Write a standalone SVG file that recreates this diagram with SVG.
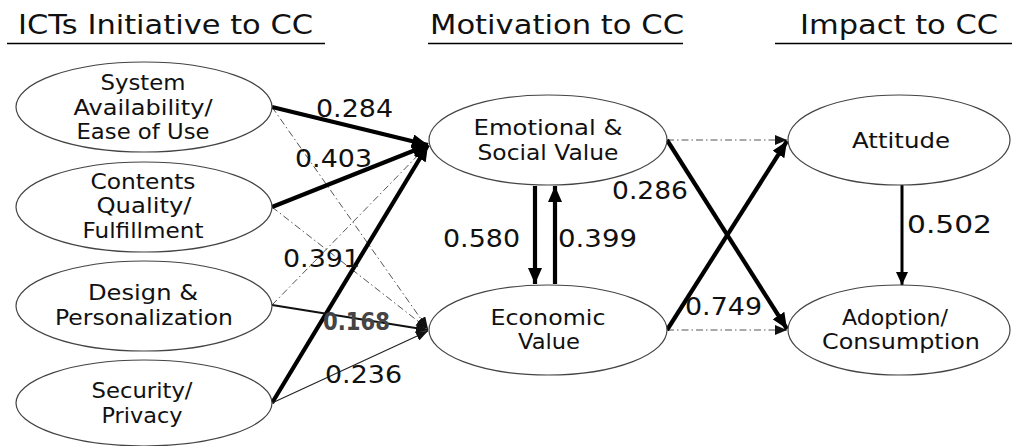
<svg xmlns="http://www.w3.org/2000/svg" width="1012" height="446" viewBox="0 0 1012 446">
  <style>
    .node ellipse { fill: #fff; stroke: #444; stroke-width: 1.2; }
    .nt { font-family: "DejaVu Sans", "Noto Sans", sans-serif; font-size: 21px; fill: #111; text-anchor: middle; }
    .hd { font-family: "DejaVu Sans", "Noto Sans", sans-serif; font-size: 27px; fill: #111; }
    .lb { font-family: "DejaVu Sans", "Noto Sans", sans-serif; font-size: 25px; fill: #111; }
    .thick { stroke: #000; stroke-width: 4.2; fill: none; }
    .med { stroke: #000; stroke-width: 3; fill: none; }
    .mid { stroke: #111; stroke-width: 2; fill: none; }
    .thin { stroke: #222; stroke-width: 1.2; fill: none; }
    .dd { stroke: #555; stroke-width: 1; fill: none; stroke-dasharray: 7 3 1.5 3; }
    .ul { stroke: #000; stroke-width: 1.5; }
  </style>
  <defs>
    <marker id="ah" markerUnits="userSpaceOnUse" markerWidth="18" markerHeight="14" refX="16" refY="7" orient="auto">
      <path d="M0,0 L16,7 L0,14 Z" fill="#000"/>
    </marker>
    <marker id="ahm" markerUnits="userSpaceOnUse" markerWidth="14" markerHeight="12" refX="13" refY="6" orient="auto">
      <path d="M0,0 L13,6 L0,12 Z" fill="#000"/>
    </marker>
    <marker id="ahs" markerUnits="userSpaceOnUse" markerWidth="14" markerHeight="10" refX="12" refY="5" orient="auto">
      <path d="M0,0 L12,5 L0,10 Z" fill="#111"/>
    </marker>
  </defs>

  <!-- column headings -->
  <g id="headings">
    <text class="hd" x="18" y="34" textLength="295" lengthAdjust="spacingAndGlyphs">ICTs Initiative to CC</text>
    <line class="ul" x1="7" y1="43.5" x2="325" y2="43.5"/>
    <text class="hd" x="430" y="34" textLength="254" lengthAdjust="spacingAndGlyphs">Motivation to CC</text>
    <line class="ul" x1="428" y1="43.5" x2="683" y2="43.5"/>
    <text class="hd" x="800" y="34" textLength="198" lengthAdjust="spacingAndGlyphs">Impact to CC</text>
    <line class="ul" x1="775" y1="43.5" x2="1012" y2="43.5"/>
  </g>

  <!-- connectors -->
  <g id="connectors">
    <!-- non-significant paths -->
    <line class="dd" x1="272" y1="107" x2="428" y2="329" marker-end="url(#ahs)"/>
    <line class="dd" x1="272" y1="207" x2="428" y2="329" marker-end="url(#ahs)"/>
    <line class="dd" x1="272" y1="305" x2="428" y2="145" marker-end="url(#ahs)"/>
    <line class="dd" x1="667" y1="140" x2="787" y2="140" marker-end="url(#ahs)"/>
    <line class="dd" x1="667" y1="330" x2="787" y2="330" marker-end="url(#ahs)"/>
    <!-- ICT initiatives to motivation -->
    <line class="thick" x1="272" y1="107" x2="428" y2="145" marker-end="url(#ah)"/>
    <line class="thick" x1="272" y1="207" x2="428" y2="145" marker-end="url(#ah)"/>
    <line class="thick" x1="272" y1="403" x2="428" y2="145" marker-end="url(#ah)"/>
    <line class="mid" x1="272" y1="305" x2="428" y2="330" marker-end="url(#ahs)"/>
    <line class="thin" x1="272" y1="403" x2="428" y2="331" marker-end="url(#ahs)"/>
    <!-- between motivations -->
    <line class="thick" x1="535" y1="186" x2="535" y2="284" marker-end="url(#ah)"/>
    <line class="thick" x1="555" y1="284" x2="555" y2="186" marker-end="url(#ah)"/>
    <!-- motivation to impact -->
    <line class="thick" x1="667" y1="140" x2="787" y2="329" marker-end="url(#ah)"/>
    <line class="thick" x1="667" y1="330" x2="787" y2="141" marker-end="url(#ah)"/>
    <line class="med" x1="902" y1="185" x2="902" y2="285" marker-end="url(#ahm)"/>
  </g>

  <!-- nodes -->
  <g id="n-system" class="node">
    <ellipse cx="144" cy="107" rx="128" ry="45"/>
    <text class="nt" x="143" y="90" textLength="85" lengthAdjust="spacingAndGlyphs">System</text>
    <text class="nt" x="143" y="115" textLength="139" lengthAdjust="spacingAndGlyphs">Availability/</text>
    <text class="nt" x="143" y="139" textLength="133" lengthAdjust="spacingAndGlyphs">Ease of Use</text>
  </g>
  <g id="n-contents" class="node">
    <ellipse cx="144" cy="207" rx="128" ry="45"/>
    <text class="nt" x="143" y="189" textLength="105" lengthAdjust="spacingAndGlyphs">Contents</text>
    <text class="nt" x="144" y="213" textLength="95" lengthAdjust="spacingAndGlyphs">Quality/</text>
    <text class="nt" x="143" y="238" textLength="121" lengthAdjust="spacingAndGlyphs">Fulfillment</text>
  </g>
  <g id="n-design" class="node">
    <ellipse cx="144" cy="306" rx="128" ry="45"/>
    <text class="nt" x="143" y="300" textLength="110" lengthAdjust="spacingAndGlyphs">Design &amp;</text>
    <text class="nt" x="144" y="325" textLength="178" lengthAdjust="spacingAndGlyphs">Personalization</text>
  </g>
  <g id="n-security" class="node">
    <ellipse cx="144" cy="403" rx="128" ry="43"/>
    <text class="nt" x="142" y="398" textLength="101" lengthAdjust="spacingAndGlyphs">Security/</text>
    <text class="nt" x="142" y="423" textLength="81" lengthAdjust="spacingAndGlyphs">Privacy</text>
  </g>
  <g id="n-emotional" class="node">
    <ellipse cx="548" cy="140" rx="119" ry="45"/>
    <text class="nt" x="548" y="135" textLength="149" lengthAdjust="spacingAndGlyphs">Emotional &amp;</text>
    <text class="nt" x="548" y="160" textLength="141" lengthAdjust="spacingAndGlyphs">Social Value</text>
  </g>
  <g id="n-economic" class="node">
    <ellipse cx="548" cy="330" rx="119" ry="45"/>
    <text class="nt" x="548" y="325" textLength="115" lengthAdjust="spacingAndGlyphs">Economic</text>
    <text class="nt" x="549" y="349" textLength="62" lengthAdjust="spacingAndGlyphs">Value</text>
  </g>
  <g id="n-attitude" class="node">
    <ellipse cx="899" cy="140" rx="111" ry="45"/>
    <text class="nt" x="901" y="148" textLength="98" lengthAdjust="spacingAndGlyphs">Attitude</text>
  </g>
  <g id="n-adoption" class="node">
    <ellipse cx="899" cy="330" rx="111" ry="45"/>
    <text class="nt" x="895" y="325" textLength="106" lengthAdjust="spacingAndGlyphs">Adoption/</text>
    <text class="nt" x="901" y="349" textLength="158" lengthAdjust="spacingAndGlyphs">Consumption</text>
  </g>

  <!-- path coefficients -->
  <g id="labels">
    <text class="lb" x="316" y="117" textLength="77" lengthAdjust="spacingAndGlyphs">0.284</text>
    <text class="lb" x="295" y="167" textLength="77" lengthAdjust="spacingAndGlyphs">0.403</text>
    <text class="lb" x="283" y="267" textLength="77" lengthAdjust="spacingAndGlyphs">0.391</text>
    <text class="lb" x="323" y="330" textLength="67" lengthAdjust="spacingAndGlyphs" style="fill:#444;font-weight:bold">0.168</text>
    <text class="lb" x="325" y="383" textLength="77" lengthAdjust="spacingAndGlyphs">0.236</text>
    <text class="lb" x="443" y="247" textLength="77" lengthAdjust="spacingAndGlyphs">0.580</text>
    <text class="lb" x="558" y="247" textLength="79" lengthAdjust="spacingAndGlyphs">0.399</text>
    <text class="lb" x="612" y="199" textLength="76" lengthAdjust="spacingAndGlyphs">0.286</text>
    <text class="lb" x="685" y="315" textLength="77" lengthAdjust="spacingAndGlyphs">0.749</text>
    <text class="lb" x="907" y="233" textLength="85" lengthAdjust="spacingAndGlyphs">0.502</text>
  </g>
</svg>
